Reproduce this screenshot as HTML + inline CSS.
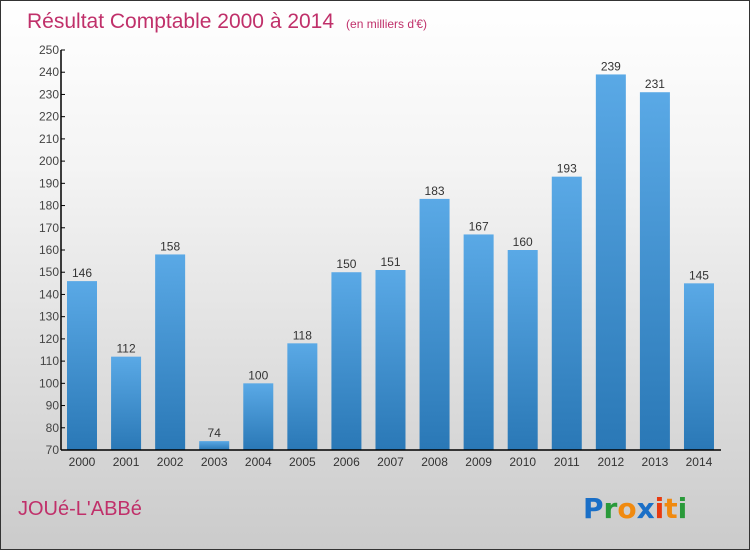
<!DOCTYPE html>
<html><head><meta charset="utf-8"><style>
body{margin:0}
#wrap{position:relative;width:748px;height:548px;border:1px solid #333;background:linear-gradient(#fff,#f4f4f4 30%,#cbcbcb);overflow:hidden;font-family:"Liberation Sans",sans-serif}
</style></head><body>
<div id="wrap">
<svg id="svg" width="748" height="548">
<text x="26" y="27" font-size="21" fill="#c0306a">Résultat Comptable 2000 à 2014<tspan font-size="12" dx="12">(en milliers d'€)</tspan></text>
<text x="17" y="514" font-size="20" fill="#c0306a">JOUé-L'ABBé</text>
<g font-size="28" font-weight="bold" font-family="'DejaVu Sans',sans-serif">
<text x="582" y="517" fill="#1a6fc7">P<tspan fill="#2a9a3a">r</tspan><tspan fill="#f08a10">o</tspan><tspan fill="#1a6fc7">x</tspan><tspan fill="#e83a10">i</tspan><tspan fill="#f08a10">t</tspan><tspan fill="#2a9a3a">i</tspan></text>
</g>
</svg>
</div>
<script>
const years=['2000','2001','2002','2003','2004','2005','2006','2007','2008','2009','2010','2011','2012','2013','2014'];
const values=[146,112,158,74,100,118,150,151,183,167,160,193,239,231,145];
const yTicks=[70,80,90,100,110,120,130,140,150,160,170,180,190,200,210,220,230,240,250];
const NS='http://www.w3.org/2000/svg',svg=document.getElementById('svg');
const yMin=70,yMax=250,top0=49,bot=449,left=60;
const y=v=>bot-(v-yMin)/(yMax-yMin)*(bot-top0);
const x=i=>81+i*44.07;
function mk(t,a){const e=document.createElementNS(NS,t);for(const k in a)e.setAttribute(k,a[k]);svg.appendChild(e);return e;}
const defs=mk('defs',{});
defs.innerHTML='<linearGradient id="bg" x1="0" y1="0" x2="0" y2="1"><stop offset="0" stop-color="#5aa9e6"/><stop offset="1" stop-color="#2a78b6"/></linearGradient>';
values.forEach((v,i)=>{
 const r=mk('rect',{x:x(i)-15,y:y(v),width:30,height:bot-y(v),fill:'url(#bg)'});
 
 
 const t=mk('text',{x:x(i),y:y(v)-4,'font-size':12,'text-anchor':'middle',fill:'#333'});
 t.textContent=v;
 
 
 const xl=mk('text',{x:x(i),y:bot+16,'font-size':12,'text-anchor':'middle',fill:'#333'});
 xl.textContent=years[i];
 
 
});
yTicks.forEach(v=>{
 const l=mk('line',{x1:left,x2:left+4,y1:y(v),y2:y(v),stroke:'#000'});
 
 
 const t=mk('text',{x:left-2,y:y(v)+4,'font-size':12,'text-anchor':'end',fill:'#444'});
 t.textContent=v;
 
 
});
const ya=mk('line',{x1:left,x2:left,y1:top0,y2:bot,stroke:'#000','stroke-width':1.5});


const xa=mk('line',{x1:left,x2:720,y1:bot,y2:bot,stroke:'#000','stroke-width':1.5});


</script>
</body></html>
